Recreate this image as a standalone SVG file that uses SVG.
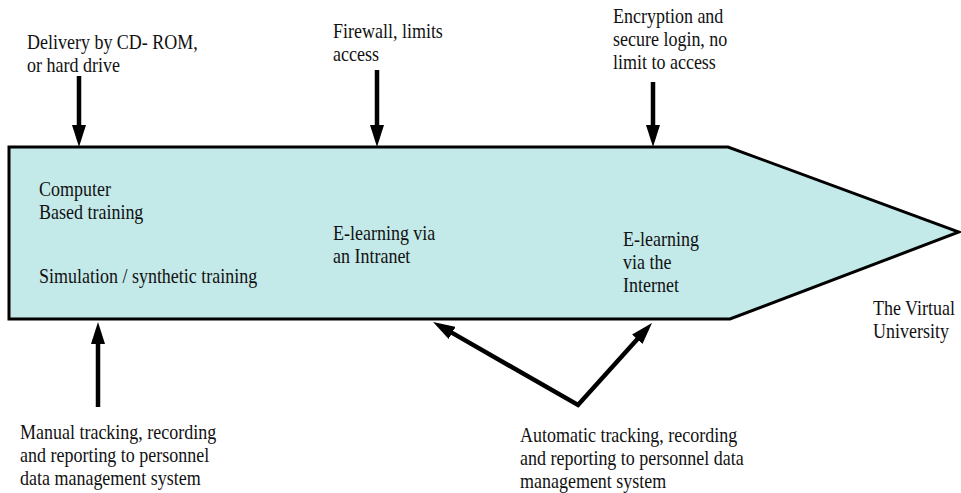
<svg xmlns="http://www.w3.org/2000/svg" width="961" height="493" viewBox="0 0 961 493">
<style>
text { font-family: "Liberation Serif", "Times New Roman", serif; font-size: 18px; fill: #111; }
.shape { fill: #c3e9e9; stroke: #000; stroke-width: 3; stroke-linejoin: miter; }
.arrow { fill: none; stroke: #000; stroke-width: 4.5; stroke-linejoin: miter; }
</style>
<defs>
<marker id="ah" markerUnits="userSpaceOnUse" markerWidth="24" markerHeight="14" refX="2" refY="7" orient="auto-start-reverse" viewBox="0 0 24 14">
<path d="M0,0 L22,7 L0,14 Z" fill="#000"/>
</marker>
</defs>
<g id="timeline">
<polygon class="shape" points="9,147 728,147 959,232 730,319 9,319"/>
</g>
<g id="cbt">
<text transform="translate(39,196) scale(1,1.15)">Computer</text>
<text transform="translate(39,219) scale(1,1.15)">Based training</text>
<text transform="translate(39,283) scale(1,1.15)">Simulation / synthetic training</text>
</g>
<g id="intranet">
<text transform="translate(333,240) scale(1,1.15)">E-learning via</text>
<text transform="translate(333,263) scale(1,1.15)">an Intranet</text>
</g>
<g id="internet">
<text transform="translate(623,246) scale(1,1.15)">E-learning</text>
<text transform="translate(623,269) scale(1,1.15)">via the</text>
<text transform="translate(623,292) scale(1,1.15)">Internet</text>
</g>
<g id="virtual">
<text transform="translate(873,315) scale(1,1.15)">The Virtual</text>
<text transform="translate(873,338) scale(1,1.15)">University</text>
</g>
<g id="delivery">
<text transform="translate(27,49) scale(1,1.15)">Delivery by CD- ROM,</text>
<text transform="translate(27,72) scale(1,1.15)">or hard drive</text>
</g>
<g id="firewall">
<text transform="translate(333,38) scale(1,1.15)">Firewall, limits</text>
<text transform="translate(333,61) scale(1,1.15)">access</text>
</g>
<g id="encryption">
<text transform="translate(613,23) scale(1,1.15)">Encryption and</text>
<text transform="translate(613,46) scale(1,1.15)">secure login, no</text>
<text transform="translate(613,69) scale(1,1.15)">limit to access</text>
</g>
<g id="manual">
<text transform="translate(20,439) scale(1,1.15)">Manual tracking, recording</text>
<text transform="translate(20,462) scale(1,1.15)">and reporting to personnel</text>
<text transform="translate(20,485) scale(1,1.15)">data management system</text>
</g>
<g id="automatic">
<text transform="translate(520,442) scale(1,1.15)">Automatic tracking, recording</text>
<text transform="translate(520,465) scale(1,1.15)">and reporting to personnel data</text>
<text transform="translate(520,488) scale(1,1.15)">management system</text>
</g>
<g id="connectors">
<line class="arrow" x1="79" y1="76" x2="79" y2="127" marker-end="url(#ah)"/>
<line class="arrow" x1="377" y1="70" x2="377" y2="127" marker-end="url(#ah)"/>
<line class="arrow" x1="653" y1="82" x2="653" y2="127" marker-end="url(#ah)"/>
<line class="arrow" x1="98" y1="407" x2="98" y2="342" marker-end="url(#ah)"/>
<polyline class="arrow" points="450.4,331.9 578,405 638.6,337.8" marker-start="url(#ah)" marker-end="url(#ah)"/>
</g>
</svg>
